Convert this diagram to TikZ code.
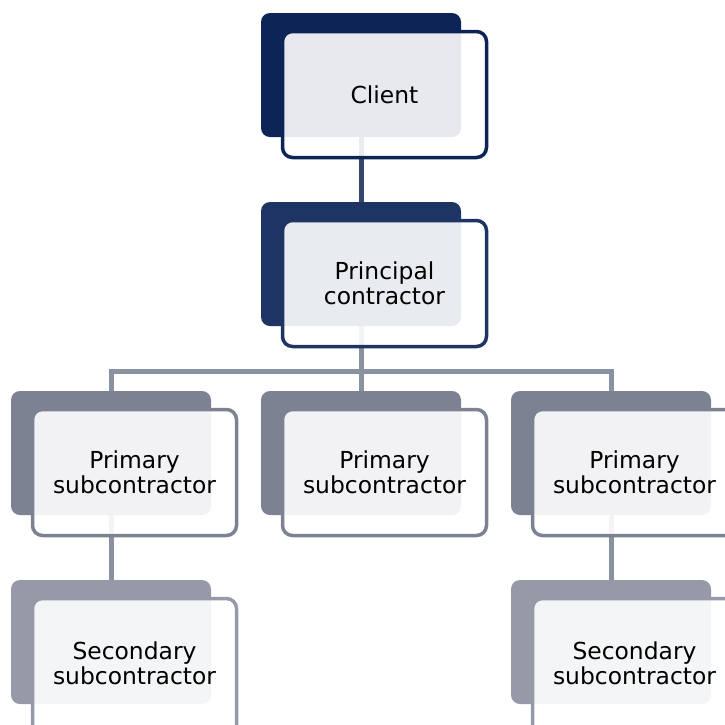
\documentclass[tikz,border=0pt]{standalone}
\usepackage{fontspec}
\setmainfont{DejaVu Sans}
\usetikzlibrary{positioning,calc}

\definecolor{clientblue}{RGB}{12,36,86}
\definecolor{principalblue}{RGB}{30,52,98}
\definecolor{primarygray}{RGB}{124,130,146}
\definecolor{secondarygray}{RGB}{150,154,168}
\definecolor{linkblue}{RGB}{52,70,110}
\definecolor{linkgray}{RGB}{138,145,160}

\pgfdeclarelayer{background}
\pgfsetlayers{background,main}

\begin{document}
\begin{tikzpicture}[x=1pt, y=-1pt,
    back/.style={rectangle, rounded corners=9pt, minimum width=200pt,
      minimum height=124pt, inner sep=0pt, outer sep=0pt},
    frame/.style={rectangle, rounded corners=10pt, line width=3.5pt,
      fill=white, fill opacity=0.9, text opacity=1, text=black,
      minimum width=204pt, minimum height=126pt, inner sep=0pt,
      align=center, font=\fontsize{23.4}{25}\selectfont},
    tallframe/.style={frame, minimum height=146pt},
    link/.style={line width=5pt}]
    \useasboundingbox (0,0) rectangle (725,724);

    % Client
    \node[back, fill=clientblue] (client-bg) at (361,75) {};
    \node[frame, draw=clientblue] (client) at ($(client-bg)+(23.5,19.5)$) {Client};

    % Principal contractor
    \node[back, fill=principalblue] (principal-bg) at (361,264) {};
    \node[frame, draw=principalblue] (principal) at ($(principal-bg)+(23.5,19.5)$) {Principal\\contractor};

    % Primary subcontractors
    \node[back, fill=primarygray] (primary-l-bg) at (111,453) {};
    \node[frame, draw=primarygray] (primary-l) at ($(primary-l-bg)+(23.5,19.5)$) {Primary\\subcontractor};
    \node[back, fill=primarygray] (primary-m-bg) at (361,453) {};
    \node[frame, draw=primarygray] (primary-m) at ($(primary-m-bg)+(23.5,19.5)$) {Primary\\subcontractor};
    \node[back, fill=primarygray] (primary-r-bg) at (611,453) {};
    \node[frame, draw=primarygray] (primary-r) at ($(primary-r-bg)+(23.5,19.5)$) {Primary\\subcontractor};

    % Secondary subcontractors (frames run off the bottom edge)
    \node[back, fill=secondarygray] (secondary-l-bg) at (111,642) {};
    \node[tallframe, draw=secondarygray] (secondary-l) at ($(secondary-l-bg)+(23.5,29.5)$) {Secondary\\subcontractor\\[-7.5pt]};
    \node[back, fill=secondarygray] (secondary-r-bg) at (611,642) {};
    \node[tallframe, draw=secondarygray] (secondary-r) at ($(secondary-r-bg)+(23.5,29.5)$) {Secondary\\subcontractor\\[-7.5pt]};

    % Connectors behind the boxes
    \coordinate (bus) at (361,371);
    \begin{pgfonlayer}{background}
      \draw[link, linkblue] (client-bg) -- (principal-bg);
      \draw[link, linkgray] (principal-bg) -- (bus);
      \draw[link, linkgray] (primary-l-bg) |- (bus) -| (primary-r-bg);
      \draw[link, linkgray] (bus) -- (primary-m-bg);
      \draw[link, linkgray] (primary-l-bg) -- (secondary-l-bg);
      \draw[link, linkgray] (primary-r-bg) -- (secondary-r-bg);
    \end{pgfonlayer}
\end{tikzpicture}
\end{document}
